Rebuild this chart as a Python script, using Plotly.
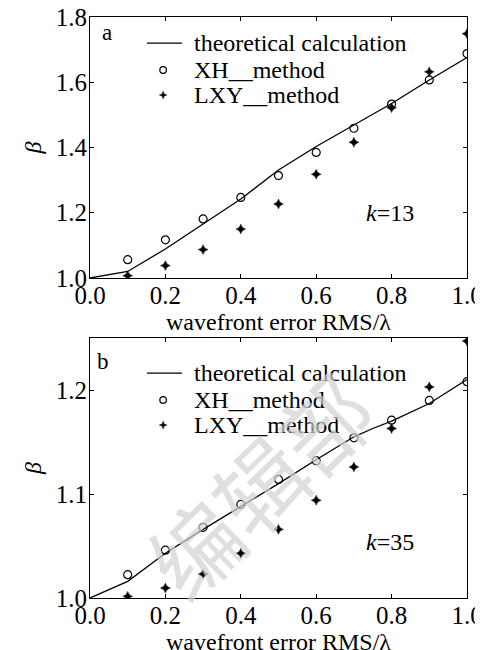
import plotly.graph_objects as go
from plotly.subplots import make_subplots

x_vals = [0.0, 0.1, 0.2, 0.3, 0.4, 0.5, 0.6, 0.7, 0.8, 0.9, 1.0]
x_pts = [0.1, 0.2, 0.3, 0.4, 0.5, 0.6, 0.7, 0.8, 0.9, 1.0]

# panel a (k=13)
theory_a = [1.0, 1.02, 1.089, 1.166, 1.242, 1.331, 1.403, 1.469, 1.535, 1.607, 1.676]
xh_a = [1.056, 1.117, 1.181, 1.247, 1.314, 1.385, 1.459, 1.533, 1.607, 1.688]
lxy_a = [1.007, 1.038, 1.087, 1.150, 1.227, 1.318, 1.416, 1.522, 1.632, 1.749]

# panel b (k=35)
x_theory_b = [0.0, 0.1, 0.2, 0.3, 0.4, 0.5, 0.6, 0.7, 0.75, 0.8, 0.9, 1.0]
theory_b = [1.0, 1.016, 1.043, 1.066, 1.088, 1.110, 1.133, 1.155, 1.163, 1.170, 1.187, 1.210]
xh_b = [1.0224, 1.046, 1.068, 1.090, 1.114, 1.132, 1.154, 1.171, 1.190, 1.208]
lxy_b = [1.0016, 1.0096, 1.023, 1.043, 1.066, 1.094, 1.126, 1.163, 1.203, 1.247]

x_ticks = [0.0, 0.2, 0.4, 0.6, 0.8, 1.0]
x_tick_labels = ["0.0", "0.2", "0.4", "0.6", "0.8", "1.0"]
ya_ticks = [1.0, 1.2, 1.4, 1.6, 1.8]
ya_labels = ["1.0", "1.2", "1.4", "1.6", "1.8"]
yb_ticks = [1.0, 1.1, 1.2]
yb_labels = ["1.0", "1.1", "1.2"]

legend_names = ["theoretical calculation", "XH__method", "LXY__method"]

FONT = "Times New Roman, Liberation Serif, DejaVu Serif, serif"

fig = make_subplots(rows=2, cols=1, vertical_spacing=0.1)

for row, (xt, th, xh, lxy) in enumerate(
        [(x_vals, theory_a, xh_a, lxy_a),
         (x_theory_b, theory_b, xh_b, lxy_b)], start=1):
    fig.add_trace(go.Scatter(x=xt, y=th, mode="lines", name=legend_names[0],
                             line=dict(color="black", width=1.3), showlegend=False),
                  row=row, col=1)
    fig.add_trace(go.Scatter(x=x_pts, y=xh, mode="markers", name=legend_names[1],
                             marker=dict(symbol="circle-open", size=8, color="black",
                                         line=dict(width=1.2, color="black")),
                             showlegend=False), row=row, col=1)
    fig.add_trace(go.Scatter(x=x_pts, y=lxy, mode="markers", name=legend_names[2],
                             marker=dict(symbol="star-diamond", size=7, color="black",
                                         line=dict(width=0.5, color="black")),
                             showlegend=False), row=row, col=1)

axis_common = dict(showline=True, linecolor="black", linewidth=1.2, mirror="ticks",
                   ticks="inside", ticklen=4, tickcolor="black", showgrid=False,
                   zeroline=False, automargin=False, ticklabeloverflow="allow",
                   tickfont=dict(family=FONT, size=25, color="black"))

for r in (1, 2):
    fig.update_xaxes(range=[0, 1], tickvals=x_ticks, ticktext=x_tick_labels,
                     ticklabelstandoff=-5,
                     title=dict(text="wavefront error RMS/λ", standoff=0,
                                font=dict(family=FONT, size=24, color="black")),
                     row=r, col=1, **axis_common)

fig.update_yaxes(range=[1.0, 1.8], tickvals=ya_ticks, ticktext=ya_labels,
                 ticklabelstandoff=-3,
                 title=dict(text="<i>β</i>", standoff=7,
                            font=dict(family=FONT, size=24, color="black")),
                 row=1, col=1, **axis_common)
fig.update_yaxes(range=[1.0, 1.25], tickvals=yb_ticks, ticktext=yb_labels,
                 ticklabelstandoff=-3,
                 title=dict(text="<i>β</i>", standoff=7,
                            font=dict(family=FONT, size=24, color="black")),
                 row=2, col=1, **axis_common)

fig.update_layout(
    yaxis=dict(domain=[0.5508, 1.0]),
    yaxis2=dict(domain=[0.0, 0.4475]),
)

annots = []
shapes = []
# in-plot legends (one per panel), positioned in axis-domain coordinates
legend_rows = {"": [0.900, 0.797, 0.701], "2": [0.865, 0.762, 0.665]}
star_path = "M 0,3.8 L 1,1 L 3.8,0 L 1,-1 L 0,-3.8 L -1,-1 L -3.8,0 L -1,1 Z"
for suf, rows in legend_rows.items():
    xr, yr = f"x{suf} domain", f"y{suf} domain"
    for name, yy in zip(legend_names, rows):
        annots.append(dict(text=name, x=0.271, y=yy, xref=xr, yref=yr,
                           showarrow=False, xanchor="left", yanchor="middle",
                           font=dict(family=FONT, size=24, color="black")))
    shapes.append(dict(type="line", xref=xr, yref=yr, x0=0.151, x1=0.244,
                       y0=rows[0], y1=rows[0], line=dict(color="black", width=1.3)))
    shapes.append(dict(type="circle", xref=xr, yref=yr, xsizemode="pixel",
                       ysizemode="pixel", xanchor=0.194, yanchor=rows[1],
                       x0=-3.3, x1=3.3, y0=-3.3, y1=3.3,
                       line=dict(color="black", width=1.2)))
    shapes.append(dict(type="path", xref=xr, yref=yr, xsizemode="pixel",
                       ysizemode="pixel", xanchor=0.194, yanchor=rows[2],
                       path=star_path, fillcolor="black",
                       line=dict(color="black", width=0.5)))

annots += [
    dict(text="a", x=0.045, y=0.939, xref="x domain", yref="y domain",
         showarrow=False, xanchor="center", yanchor="middle",
         font=dict(family=FONT, size=23, color="black")),
    dict(text="b", x=0.035, y=0.908, xref="x2 domain", yref="y2 domain",
         showarrow=False, xanchor="center", yanchor="middle",
         font=dict(family=FONT, size=23, color="black")),
    dict(text="<i>k</i>=13", x=0.796, y=1.199, xref="x", yref="y",
         showarrow=False, xanchor="center",
         font=dict(family=FONT, size=24, color="black")),
    dict(text="<i>k</i>=35", x=0.796, y=1.054, xref="x2", yref="y2",
         showarrow=False, xanchor="center",
         font=dict(family=FONT, size=24, color="black")),
    dict(text="编辑部", x=0.446, y=0.196, xref="paper", yref="paper",
         xanchor="center", yanchor="middle",
         showarrow=False, textangle=-44,
         font=dict(family="Noto Sans CJK SC", size=90, color="rgba(210,210,210,0.7)")),
]

# the page body adds an 8px offset; margins are chosen so that the plot
# areas land at the reference's window positions
fig.update_layout(
    width=483, height=650,
    margin=dict(l=82, r=24, t=9, b=60),
    paper_bgcolor="white", plot_bgcolor="white",
    font=dict(family=FONT, color="black"),
    showlegend=False,
    annotations=annots,
    shapes=shapes,
)

fig.write_html("out.html")
